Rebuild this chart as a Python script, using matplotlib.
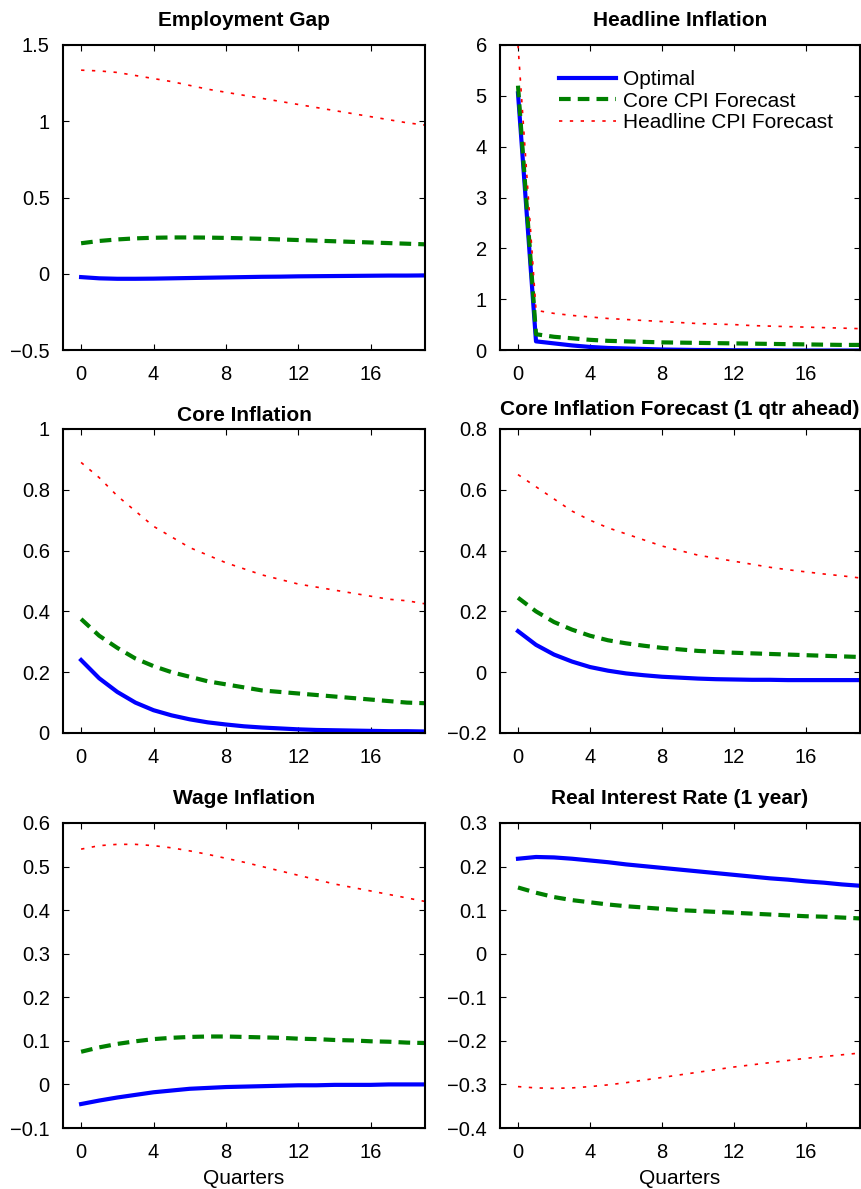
import numpy as np
import matplotlib
matplotlib.use('Agg')
import matplotlib.pyplot as plt
from matplotlib.ticker import FuncFormatter

plt.rcParams['font.family'] = ['Liberation Sans', 'DejaVu Sans']
plt.rcParams['font.size'] = 14.5

quarters = np.arange(20)

# Employment Gap
emp_opt = [-0.022, -0.030, -0.033, -0.033, -0.032, -0.030, -0.028, -0.026, -0.024, -0.022,
           -0.020, -0.019, -0.017, -0.016, -0.015, -0.014, -0.013, -0.012, -0.012, -0.011]
emp_core = [0.200, 0.215, 0.225, 0.232, 0.236, 0.238, 0.238, 0.237, 0.235, 0.232,
            0.229, 0.225, 0.221, 0.217, 0.213, 0.209, 0.205, 0.201, 0.197, 0.193]
emp_head = [1.335, 1.330, 1.320, 1.300, 1.280, 1.260, 1.235, 1.210, 1.190, 1.170,
            1.150, 1.130, 1.110, 1.090, 1.070, 1.050, 1.030, 1.010, 0.990, 0.975]

# Headline Inflation
hi_opt = [5.05, 0.17, 0.13, 0.09, 0.06, 0.04, 0.03, 0.02, 0.01, 0.005,
          0.0, 0.0, -0.005, -0.005, -0.005, -0.01, -0.01, -0.01, -0.01, -0.01]
hi_core = [5.20, 0.31, 0.26, 0.23, 0.20, 0.18, 0.17, 0.16, 0.15, 0.145,
           0.14, 0.135, 0.13, 0.125, 0.12, 0.115, 0.11, 0.105, 0.10, 0.10]
hi_head = [6.00, 0.78, 0.72, 0.68, 0.65, 0.62, 0.60, 0.58, 0.56, 0.54,
           0.52, 0.51, 0.50, 0.48, 0.47, 0.46, 0.45, 0.44, 0.43, 0.42]

# Core Inflation
ci_opt = [0.240, 0.180, 0.135, 0.100, 0.075, 0.058, 0.045, 0.035, 0.028, 0.022,
          0.018, 0.015, 0.012, 0.010, 0.009, 0.008, 0.007, 0.006, 0.006, 0.005]
ci_core = [0.375, 0.320, 0.280, 0.245, 0.220, 0.200, 0.185, 0.170, 0.160, 0.150,
           0.140, 0.135, 0.130, 0.125, 0.120, 0.115, 0.110, 0.105, 0.100, 0.098]
ci_head = [0.890, 0.840, 0.780, 0.730, 0.680, 0.645, 0.610, 0.585, 0.560, 0.540,
           0.520, 0.505, 0.490, 0.480, 0.470, 0.460, 0.450, 0.440, 0.435, 0.425]

# Core Inflation Forecast (1 qtr ahead)
cf_opt = [0.135, 0.090, 0.058, 0.035, 0.017, 0.005, -0.004, -0.010, -0.015, -0.018,
          -0.021, -0.023, -0.024, -0.025, -0.025, -0.026, -0.026, -0.026, -0.026, -0.026]
cf_core = [0.245, 0.200, 0.165, 0.140, 0.120, 0.105, 0.095, 0.087, 0.080, 0.075,
           0.070, 0.067, 0.064, 0.062, 0.060, 0.058, 0.056, 0.054, 0.052, 0.050]
cf_head = [0.650, 0.610, 0.570, 0.530, 0.500, 0.475, 0.455, 0.435, 0.415, 0.400,
           0.385, 0.375, 0.365, 0.355, 0.345, 0.337, 0.330, 0.323, 0.317, 0.310]

# Wage Inflation
wi_opt = [-0.045, -0.037, -0.030, -0.024, -0.018, -0.014, -0.010, -0.008, -0.006, -0.005,
          -0.004, -0.003, -0.002, -0.002, -0.001, -0.001, -0.001, 0.0, 0.0, 0.0]
wi_core = [0.075, 0.085, 0.093, 0.099, 0.104, 0.107, 0.109, 0.110, 0.110, 0.109,
           0.108, 0.107, 0.105, 0.104, 0.102, 0.101, 0.099, 0.098, 0.096, 0.095]
wi_head = [0.540, 0.548, 0.551, 0.551, 0.548, 0.543, 0.536, 0.528, 0.519, 0.510,
           0.500, 0.490, 0.480, 0.470, 0.460, 0.452, 0.444, 0.436, 0.428, 0.420]

# Real Interest Rate (1 year)
rr_opt = [0.218, 0.222, 0.221, 0.218, 0.214, 0.210, 0.205, 0.201, 0.197, 0.193,
          0.189, 0.185, 0.181, 0.177, 0.173, 0.170, 0.166, 0.163, 0.159, 0.156]
rr_core = [0.152, 0.140, 0.130, 0.123, 0.118, 0.113, 0.109, 0.106, 0.103, 0.100,
           0.098, 0.096, 0.094, 0.092, 0.090, 0.088, 0.086, 0.085, 0.083, 0.081]
rr_head = [-0.305, -0.308, -0.309, -0.308, -0.305, -0.301, -0.296, -0.290, -0.284, -0.278,
           -0.272, -0.266, -0.260, -0.255, -0.250, -0.245, -0.240, -0.236, -0.232, -0.228]

panels = [
    ('Employment Gap', emp_opt, emp_core, emp_head, (-0.5, 1.5), [-0.5, 0, 0.5, 1, 1.5]),
    ('Headline Inflation', hi_opt, hi_core, hi_head, (0, 6), [0, 1, 2, 3, 4, 5, 6]),
    ('Core Inflation', ci_opt, ci_core, ci_head, (0, 1), [0, 0.2, 0.4, 0.6, 0.8, 1]),
    ('Core Inflation Forecast (1 qtr ahead)', cf_opt, cf_core, cf_head, (-0.2, 0.8),
     [-0.2, 0, 0.2, 0.4, 0.6, 0.8]),
    ('Wage Inflation', wi_opt, wi_core, wi_head, (-0.1, 0.6),
     [-0.1, 0, 0.1, 0.2, 0.3, 0.4, 0.5, 0.6]),
    ('Real Interest Rate (1 year)', rr_opt, rr_core, rr_head, (-0.4, 0.3),
     [-0.4, -0.3, -0.2, -0.1, 0, 0.1, 0.2, 0.3]),
]
labels = ['Optimal', 'Core CPI Forecast', 'Headline CPI Forecast']
title_pads = [14, 14, 6, 10, 14, 14]

W, H = 861, 1189
fig = plt.figure(figsize=(W / 100, H / 100), dpi=100)

# axes boxes in pixels: (left, right) and (top, bottom)
cols = [(63, 425), (500, 860)]
rows = [(45, 350), (429, 733), (823, 1128)]

fmt = FuncFormatter(lambda v, p: ('%g' % round(v, 6)).replace('-', '\u2212'))

for i, (title, opt, core, head, ylim, yticks) in enumerate(panels):
    r, c = divmod(i, 2)
    x0, x1 = cols[c]
    y0, y1 = rows[r]
    ax = fig.add_axes([x0 / W, 1 - y1 / H, (x1 - x0) / W, (y1 - y0) / H])
    ax.plot(quarters, opt, color='#0000ff', lw=3.0, label=labels[0])
    ax.plot(quarters, core, color='#008000', lw=3.0, dashes=(2.8, 1.7), label=labels[1])
    ax.plot(quarters, head, color='#ff0000', lw=1.2, dashes=(2, 4.5), label=labels[2])
    ax.set_xlim(-1, 19)
    ax.set_ylim(*ylim)
    ax.set_xticks([0, 4, 8, 12, 16])
    ax.set_yticks(yticks)
    ax.yaxis.set_major_formatter(fmt)
    ax.tick_params(direction='in', length=4, width=0.8, top=True, right=True, pad=9.5)
    ax.tick_params(axis='x', pad=11)
    for s in ax.spines.values():
        s.set_linewidth(1.5)
    ax.set_title(title, fontweight='bold', fontsize=15, pad=title_pads[i])
    if r == 2:
        ax.set_xlabel('Quarters', fontsize=15, labelpad=5)
    if i == 1:
        ax.legend(loc='upper left', bbox_to_anchor=(0.142, 0.945), frameon=False,
                  fontsize=15, handlelength=2.7, labelspacing=0.12, handletextpad=0.33,
                  borderaxespad=0)

fig.savefig('out.png', dpi=100)
